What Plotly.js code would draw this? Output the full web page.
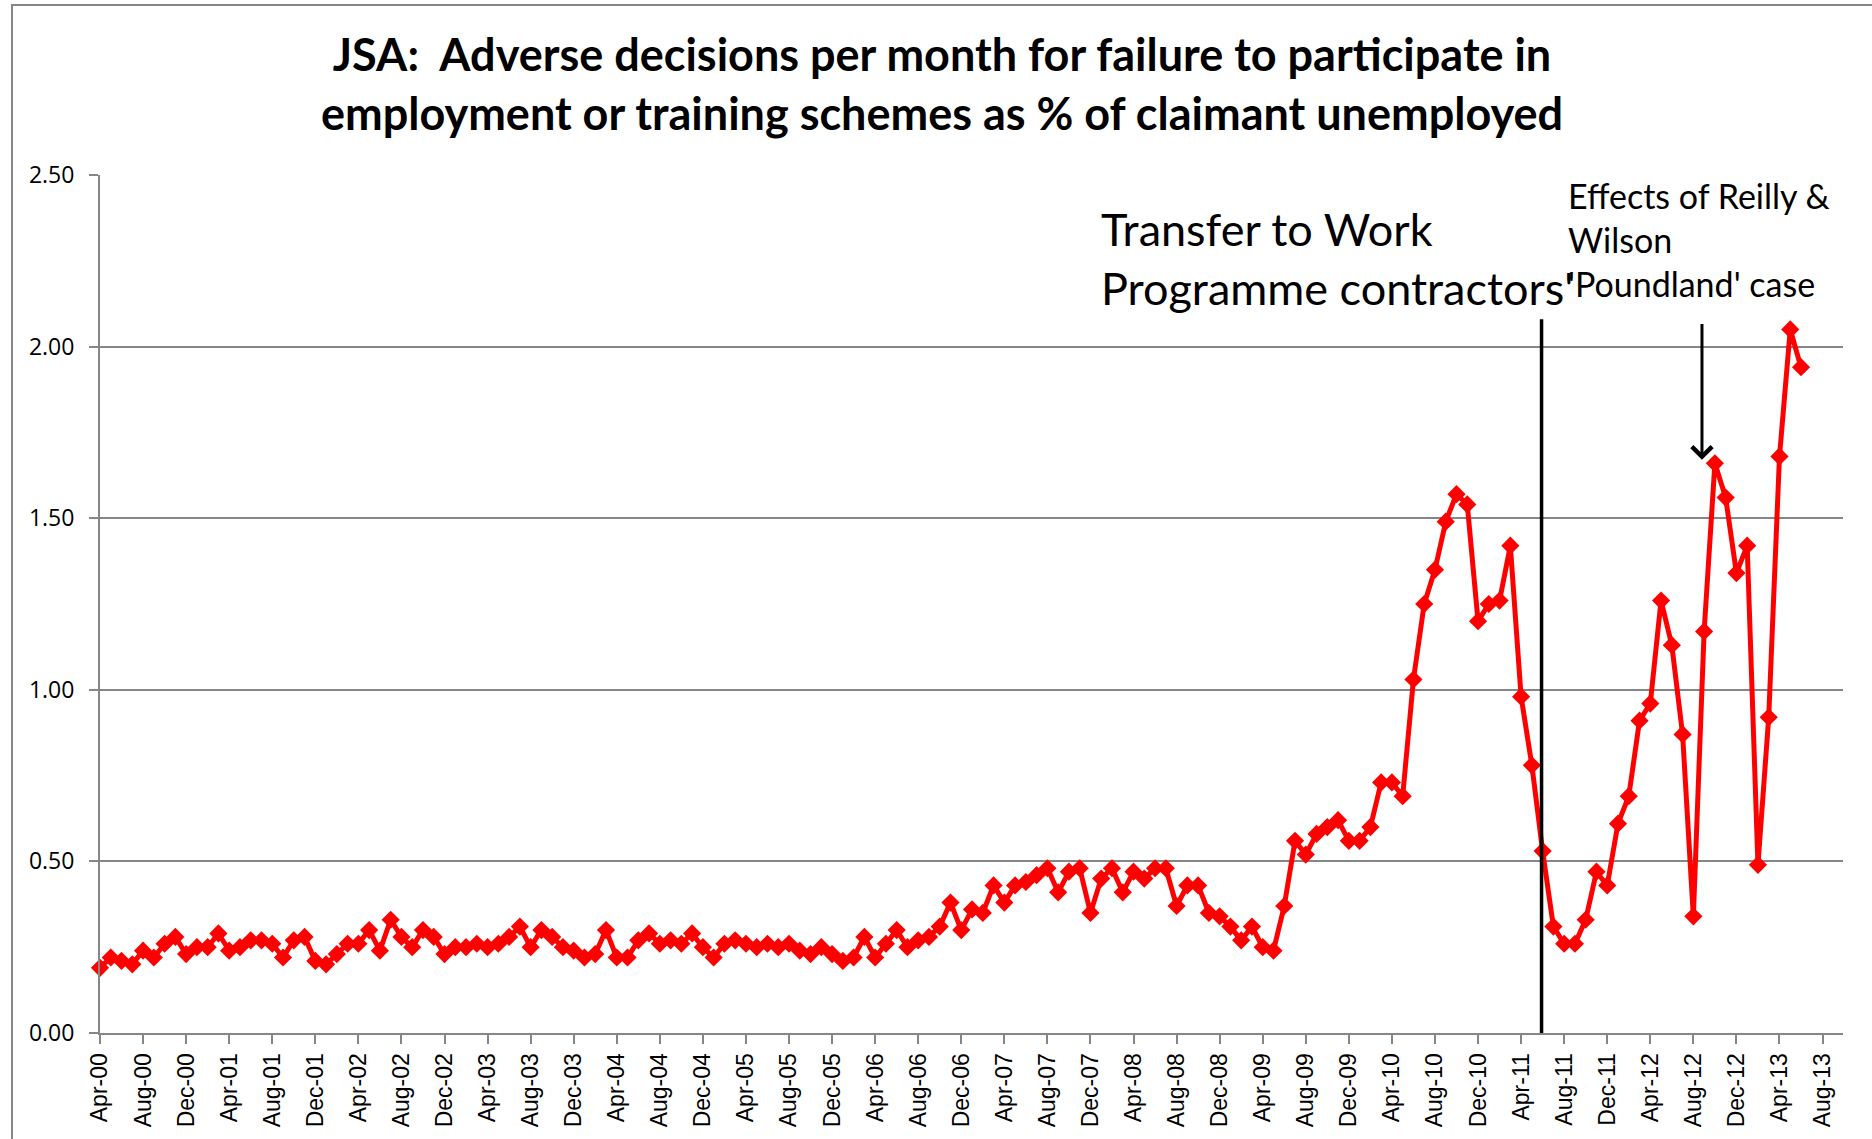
<!DOCTYPE html>
<html>
<head>
<meta charset="utf-8">
<script src="https://cdn.plot.ly/plotly-3.0.1.min.js"></script>
<style>
  html, body { margin: 0; padding: 0; background: #ffffff; }
  #chart { width: 1872px; height: 1139px; }
</style>
</head>
<body>
<div id="chart"></div>
<script>
// Monthly values, Apr-00 to Jun-13 (% of claimant unemployed)
const values = [
  0.19, 0.22, 0.21, 0.20, 0.24, 0.22, 0.26, 0.28, 0.23, 0.25,
  0.25, 0.29, 0.24, 0.25, 0.27, 0.27, 0.26, 0.22, 0.27, 0.28,
  0.21, 0.20, 0.23, 0.26, 0.26, 0.30, 0.24, 0.33, 0.28, 0.25,
  0.30, 0.28, 0.23, 0.25, 0.25, 0.26, 0.25, 0.26, 0.28, 0.31,
  0.25, 0.30, 0.28, 0.25, 0.24, 0.22, 0.23, 0.30, 0.22, 0.22,
  0.27, 0.29, 0.26, 0.27, 0.26, 0.29, 0.25, 0.22, 0.26, 0.27,
  0.26, 0.25, 0.26, 0.25, 0.26, 0.24, 0.23, 0.25, 0.23, 0.21,
  0.22, 0.28, 0.22, 0.26, 0.30, 0.25, 0.27, 0.28, 0.31, 0.38,
  0.30, 0.36, 0.35, 0.43, 0.38, 0.43, 0.44, 0.46, 0.48, 0.41,
  0.47, 0.48, 0.35, 0.45, 0.48, 0.41, 0.47, 0.45, 0.48, 0.48,
  0.37, 0.43, 0.43, 0.35, 0.34, 0.31, 0.27, 0.31, 0.25, 0.24,
  0.37, 0.56, 0.52, 0.58, 0.60, 0.62, 0.56, 0.56, 0.60, 0.73,
  0.73, 0.69, 1.03, 1.25, 1.35, 1.49, 1.57, 1.54, 1.20, 1.25,
  1.26, 1.42, 0.98, 0.78, 0.53, 0.31, 0.26, 0.26, 0.33, 0.47,
  0.43, 0.61, 0.69, 0.91, 0.96, 1.26, 1.13, 0.87, 0.34, 1.17,
  1.66, 1.56, 1.34, 1.42, 0.49, 0.92, 1.68, 2.05, 1.94
];

// Tick labels, one every 4 months from Apr-00 to Aug-13
const tickLabels = [
  "Apr-00","Aug-00","Dec-00","Apr-01","Aug-01","Dec-01","Apr-02","Aug-02","Dec-02",
  "Apr-03","Aug-03","Dec-03","Apr-04","Aug-04","Dec-04","Apr-05","Aug-05","Dec-05",
  "Apr-06","Aug-06","Dec-06","Apr-07","Aug-07","Dec-07","Apr-08","Aug-08","Dec-08",
  "Apr-09","Aug-09","Dec-09","Apr-10","Aug-10","Dec-10","Apr-11","Aug-11","Dec-11",
  "Apr-12","Aug-12","Dec-12","Apr-13","Aug-13"
];
const yTicks = [0, 0.5, 1.0, 1.5, 2.0, 2.5];

// Months since Apr-00 (category positions on the date axis)
const monthIndex = values.map((v, i) => i);
const tickPositions = tickLabels.map((t, k) => k * 4);

const titleText = "JSA:  Adverse decisions per month for failure to participate in<br>employment or training schemes as % of claimant unemployed";
const note1 = "Transfer to Work<br>Programme contractors'";
const note2 = "Effects of Reilly &<br>Wilson<br>'Poundland' case";

// Event markers (month index)
const transferMonth = 133.9;   // Jun-11
const poundlandMonth = 148.8;  // Sep-12

const grey = "#868686";

const trace = {
  x: monthIndex,
  y: values,
  type: "scatter",
  mode: "lines+markers",
  line: { color: "#FF0000", width: 5 },
  marker: { symbol: "diamond", size: 14, color: "#FF0000" },
  cliponaxis: false,
  hoverinfo: "x+y"
};

const layout = {
  width: 1872,
  height: 1139,
  paper_bgcolor: "#ffffff",
  plot_bgcolor: "#ffffff",
  margin: { l: 100, r: 29, t: 175, b: 106 },
  showlegend: false,
  title: {
    text: titleText,
    font: { family: "Lato, 'Open Sans', sans-serif", size: 45, color: "#000000", weight: "bold" },
    x: 942 / 1872,
    xref: "container",
    xanchor: "center",
    y: 1 - 71 / 1139,
    yref: "container",
    yanchor: "middle"
  },
  xaxis: {
    range: [0, 161.9],
    tickmode: "array",
    tickvals: tickPositions,
    ticktext: tickLabels,
    tickangle: -90,
    tickfont: { family: "'Liberation Sans', Arial, sans-serif", size: 23, color: "#000000" },
    ticks: "outside",
    ticklen: 9,
    tickwidth: 2,
    tickcolor: grey,
    showline: true,
    linecolor: grey,
    linewidth: 2,
    showgrid: false,
    zeroline: false,
    fixedrange: true
  },
  yaxis: {
    range: [0, 2.5],
    tickmode: "array",
    tickvals: yTicks,
    tickformat: ".2f",
    tickfont: { family: "'Open Sans', sans-serif", size: 23, color: "#000000" },
    ticklabelstandoff: 10,
    ticks: "outside",
    ticklen: 9,
    tickwidth: 2,
    tickcolor: grey,
    showline: true,
    linecolor: grey,
    linewidth: 2,
    showgrid: true,
    gridcolor: grey,
    gridwidth: 2,
    zeroline: false,
    fixedrange: true
  },
  shapes: [
    {
      type: "rect", xref: "paper", yref: "paper",
      x0: (12 - 100) / 1743, x1: 1.2,
      y0: -0.3, y1: (1033 - 5) / 858,
      line: { color: grey, width: 2 },
      fillcolor: "rgba(0,0,0,0)",
      layer: "below"
    },
    {
      type: "line", xref: "x", yref: "y",
      x0: transferMonth, x1: transferMonth,
      y0: -0.04, y1: 2.08,
      line: { color: "#000000", width: 3.5 }
    }
  ],
  annotations: [
    {
      text: note1,
      xref: "paper", yref: "paper",
      x: (1099 - 100) / 1743, y: (1033 - 258.5) / 858,
      xanchor: "left", yanchor: "middle", align: "left",
      showarrow: false,
      font: { family: "Lato, 'Open Sans', sans-serif", size: 45, color: "#000000" }
    },
    {
      text: note2,
      xref: "paper", yref: "paper",
      x: (1566 - 100) / 1743, y: (1033 - 239) / 858,
      xanchor: "left", yanchor: "middle", align: "left",
      showarrow: false,
      font: { family: "Lato, 'Open Sans', sans-serif", size: 34, color: "#000000" }
    },
    {
      text: "",
      xref: "x", yref: "y", axref: "x", ayref: "y",
      x: poundlandMonth, y: 1.67,
      ax: poundlandMonth, ay: 2.07,
      showarrow: true,
      arrowhead: 4,
      arrowsize: 1.3,
      arrowwidth: 3,
      arrowcolor: "#000000",
      standoff: 0
    }
  ]
};

Plotly.newPlot("chart", [trace], layout, { displayModeBar: false, staticPlot: true });
</script>
</body>
</html>
